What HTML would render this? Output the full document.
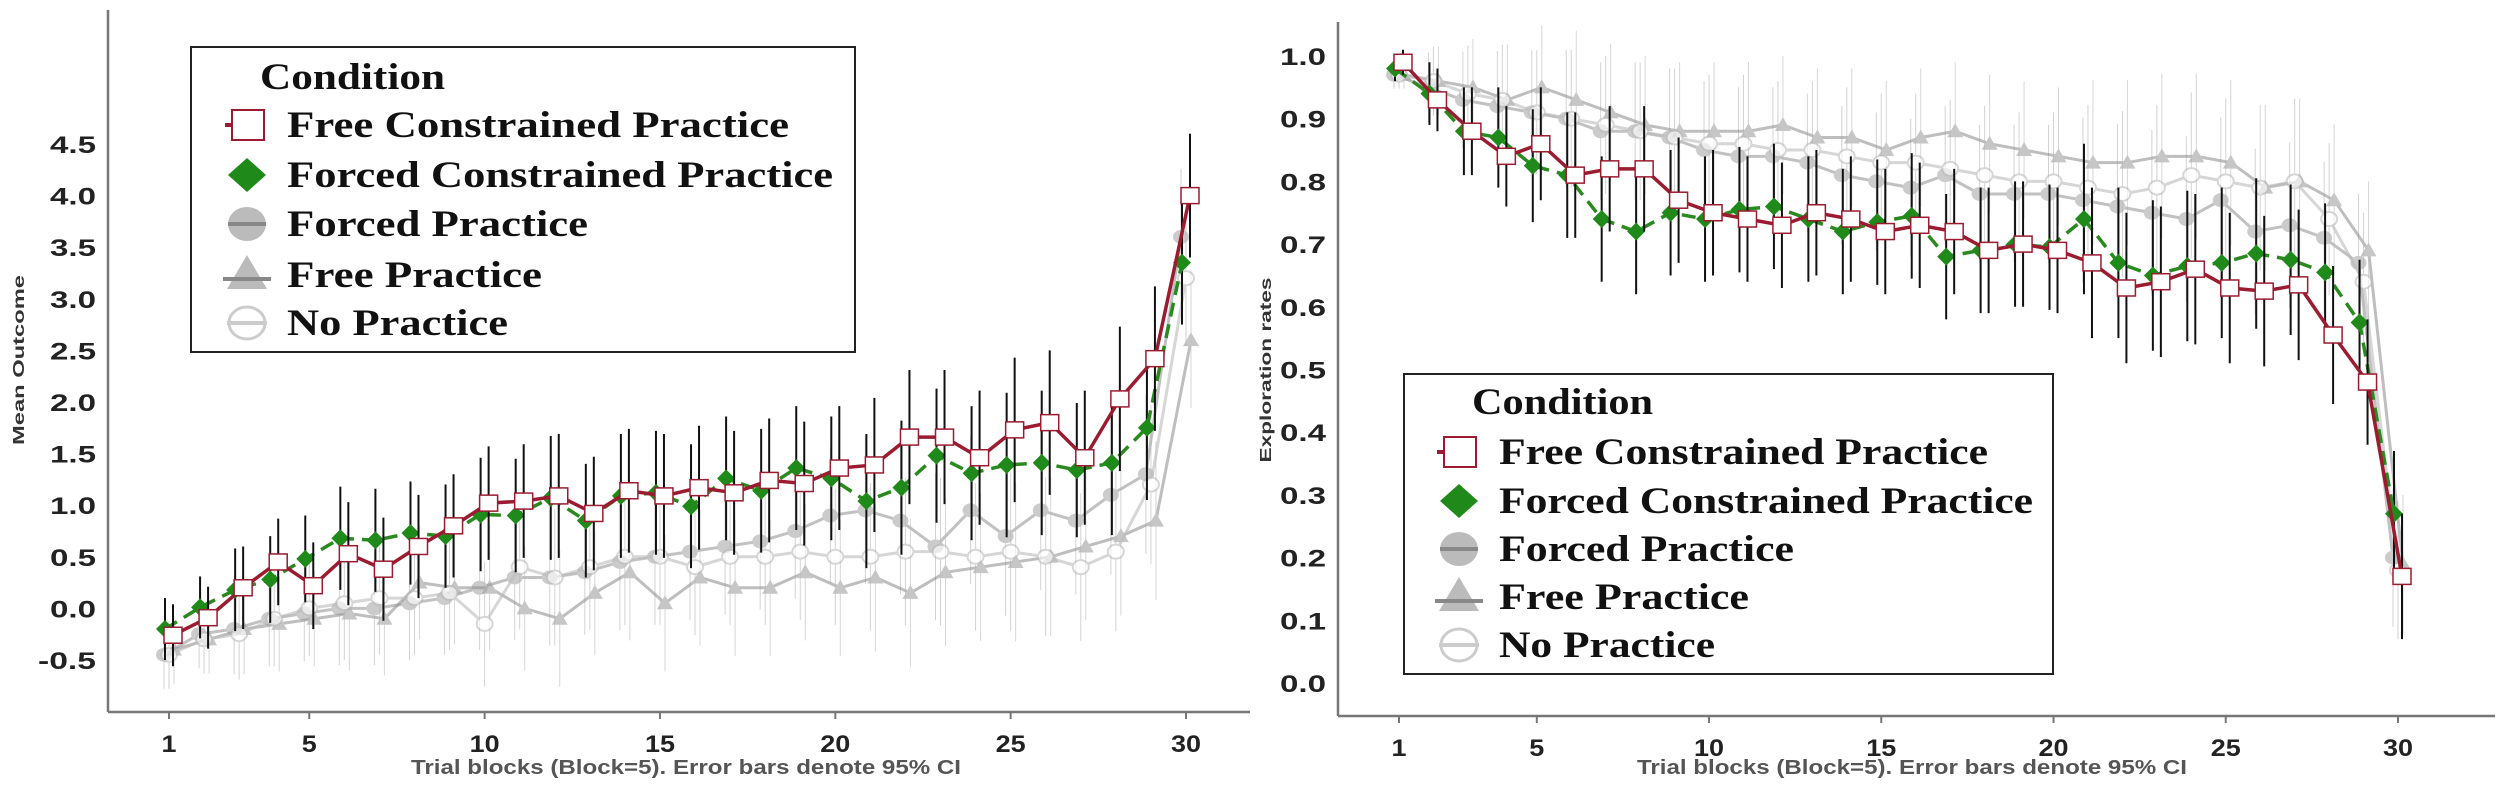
<!DOCTYPE html>
<html><head><meta charset="utf-8"><style>
html,body{margin:0;padding:0;background:#fff;}
svg{display:block;}
</style></head><body>
<svg id="fig" xmlns="http://www.w3.org/2000/svg" width="2500" height="796" viewBox="0 0 2500 796"></svg>
<script>
// ---------- data: left chart (Mean Outcome) ----------
const blocks = Array.from({length:30},(_,i)=>i+1);
const xTickLabels = [1,5,10,15,20,25,30];
const leftYTicks = [-0.5,0.0,0.5,1.0,1.5,2.0,2.5,3.0,3.5,4.0,4.5];
const leftFreeConstrained = [-0.26,-0.09,0.2,0.45,0.22,0.53,0.38,0.6,0.8,1.02,1.04,1.09,0.92,1.14,1.09,1.17,1.12,1.24,1.21,1.36,1.39,1.66,1.66,1.46,1.73,1.8,1.46,2.03,2.42,4.0];
const leftForcedConstrained = [-0.2,0.01,0.18,0.28,0.48,0.68,0.66,0.73,0.7,0.91,0.9,1.07,0.85,1.09,1.12,0.99,1.26,1.14,1.36,1.26,1.04,1.17,1.48,1.31,1.39,1.41,1.34,1.41,1.75,3.35];
const leftForced = [-0.45,-0.25,-0.2,-0.1,-0.05,0,0,0.05,0.1,0.2,0.3,0.3,0.35,0.45,0.5,0.55,0.6,0.65,0.75,0.9,0.95,0.85,0.6,0.95,0.7,0.95,0.85,1.1,1.3,3.6];
const leftFree = [-0.4,-0.3,-0.2,-0.15,-0.1,-0.05,-0.1,0.25,0.2,0.2,0.0,-0.1,0.15,0.35,0.05,0.3,0.2,0.2,0.35,0.2,0.3,0.15,0.35,0.4,0.45,0.5,0.6,0.7,0.85,2.6];
const leftNo = [-0.45,-0.3,-0.25,-0.1,0.0,0.05,0.1,0.1,0.15,-0.15,0.4,0.3,0.4,0.5,0.5,0.4,0.5,0.5,0.55,0.5,0.5,0.55,0.55,0.5,0.55,0.5,0.4,0.55,1.2,3.2];
const leftCI = [0.3,0.3,0.4,0.42,0.42,0.5,0.5,0.5,0.5,0.55,0.55,0.6,0.55,0.6,0.6,0.6,0.6,0.6,0.6,0.6,0.65,0.65,0.65,0.65,0.7,0.7,0.65,0.7,0.7,0.6];
// ---------- data: right chart (Exploration rates) ----------
const rightYTicks = [0.0,0.1,0.2,0.3,0.4,0.5,0.6,0.7,0.8,0.9,1.0];
const rightFreeConstrained = [0.99,0.93,0.88,0.84,0.86,0.81,0.82,0.82,0.77,0.75,0.74,0.73,0.75,0.74,0.72,0.73,0.72,0.69,0.70,0.69,0.67,0.63,0.64,0.66,0.63,0.625,0.635,0.555,0.48,0.17];
const rightForcedConstrained = [0.98,0.94,0.88,0.87,0.825,0.81,0.74,0.72,0.75,0.74,0.755,0.76,0.74,0.72,0.735,0.745,0.68,0.69,0.70,0.695,0.74,0.67,0.65,0.665,0.67,0.685,0.675,0.655,0.575,0.27];
const rightForced = [0.97,0.95,0.93,0.92,0.91,0.90,0.88,0.88,0.87,0.85,0.84,0.84,0.83,0.81,0.80,0.79,0.81,0.78,0.78,0.78,0.77,0.76,0.75,0.74,0.77,0.72,0.73,0.71,0.67,0.20];
const rightFree = [0.97,0.96,0.95,0.93,0.95,0.93,0.91,0.89,0.88,0.88,0.88,0.89,0.87,0.87,0.85,0.87,0.88,0.86,0.85,0.84,0.83,0.83,0.84,0.84,0.83,0.79,0.80,0.77,0.69,0.19];
const rightNo = [0.97,0.96,0.94,0.93,0.91,0.90,0.89,0.88,0.87,0.86,0.86,0.85,0.85,0.84,0.83,0.83,0.82,0.81,0.80,0.80,0.79,0.78,0.79,0.81,0.80,0.79,0.80,0.74,0.64,0.18];
const rightCI = [0.02,0.05,0.07,0.08,0.09,0.1,0.1,0.1,0.1,0.1,0.1,0.1,0.1,0.1,0.1,0.1,0.1,0.1,0.1,0.1,0.12,0.12,0.12,0.12,0.12,0.12,0.12,0.11,0.1,0.1];

const NS='http://www.w3.org/2000/svg';
const svg=document.getElementById('fig');
function mk(tag,attrs,parent){const e=document.createElementNS(NS,tag);for(const k in attrs)e.setAttribute(k,attrs[k]);(parent||svg).appendChild(e);return e;}

function chart(cfg){
  const g=mk('g',{});
  
  
  const X=b=>cfg.x1+(b-1)*(cfg.x30-cfg.x1)/29;
  const Y=v=>cfg.yTop+(cfg.yTopVal-v)*(cfg.yBot-cfg.yTop)/(cfg.yTopVal-cfg.yBotVal);
  const ya=mk('line',{x1:cfg.ax,y1:cfg.axTop,x2:cfg.ax,y2:cfg.axY,stroke:'#777','stroke-width':2.5},g);
  
  
  const xa=mk('line',{x1:cfg.ax,y1:cfg.axY,x2:cfg.axRight,y2:cfg.axY,stroke:'#777','stroke-width':2.5},g);
  
  
  cfg.yTicks.forEach(v=>{
    const s=v.toFixed(1);
    const t=mk('text',{x:cfg.ax-12,y:Y(v)+9,'text-anchor':'end','font-family':'Liberation Sans, sans-serif','font-weight':'bold','font-size':24,fill:'#222',textLength:s.length>3?58:46,lengthAdjust:'spacingAndGlyphs'},g);
    t.textContent=s;
    
    
  });
  xTickLabels.forEach(b=>{
    const tk=mk('line',{x1:X(b),y1:cfg.axY,x2:X(b),y2:cfg.axY+7,stroke:'#777','stroke-width':2},g);
    
    
    const s=String(b);
    const t=mk('text',{x:X(b),y:cfg.axY+40,'text-anchor':'middle','font-family':'Liberation Sans, sans-serif','font-weight':'bold','font-size':24,fill:'#222',textLength:s.length*15,lengthAdjust:'spacingAndGlyphs'},g);
    t.textContent=s;
    
    
  });
  const xl=mk('text',{x:cfg.xlX,y:774,'text-anchor':'middle','font-family':'Liberation Sans, sans-serif','font-weight':'bold','font-size':20,fill:'#555',textLength:550,lengthAdjust:'spacingAndGlyphs'},g);
  xl.textContent='Trial blocks (Block=5). Error bars denote 95% CI';
  
  
  const yl=mk('text',{x:0,y:0,'text-anchor':'middle','font-family':'Liberation Sans, sans-serif','font-weight':'bold','font-size':16,fill:'#333',textLength:cfg.ylLen,lengthAdjust:'spacingAndGlyphs',transform:`translate(${cfg.ylX},${cfg.ylY}) rotate(-90)`},g);
  yl.textContent=cfg.yLabel;
  
  

  const grays=[
    {d:cfg.forced,col:'#999',op:0.6,sh:'circle',name:'forced-practice',dx:-5},
    {d:cfg.free,col:'#8a8a8a',op:0.55,sh:'tri',name:'free-practice',dx:5},
    {d:cfg.no,col:'#bbb',op:0.6,sh:'ocircle',name:'no-practice',dx:0}
  ];
  grays.forEach(s=>{
    const sg=mk('g',{opacity:s.op},g);
    
    
    s.d.forEach((v,i)=>{
      const x=X(blocks[i])+s.dx, c=cfg.ci[i]*1.1;
      const e=mk('line',{x1:x,y1:Y(v-c),x2:x,y2:Y(v+c),stroke:'#b5b5b5','stroke-width':1},sg);
      
      
    });
    const pts=s.d.map((v,i)=>`${X(blocks[i])+s.dx},${Y(v)}`).join(' ');
    const pl=mk('polyline',{points:pts,fill:'none',stroke:s.col,'stroke-width':3},sg);
    
    
    s.d.forEach((v,i)=>{
      const x=X(blocks[i])+s.dx,y=Y(v);let m;
      if(s.sh==='tri') m=mk('polygon',{points:`${x},${y-8} ${x-8},${y+6} ${x+8},${y+6}`,fill:'#999'},sg);
      else if(s.sh==='circle') m=mk('ellipse',{cx:x,cy:y,rx:8,ry:7,fill:'#aaa'},sg);
      else m=mk('ellipse',{cx:x,cy:y,rx:8,ry:7,fill:'#fff',stroke:'#bbb','stroke-width':2},sg);
      
      
    });
  });
  const cols=[
    {d:cfg.fcp,col:'#2a8a1f',dash:'14 8',name:'forced-constrained-practice',dx:-4,sh:'dia'},
    {d:cfg.frc,col:'#9b1b30',dash:'',name:'free-constrained-practice',dx:4,sh:'sq'}
  ];
  cols.forEach(s=>{
    const sg=mk('g',{},g);
    
    
    s.d.forEach((v,i)=>{
      const x=X(blocks[i])+s.dx, c=cfg.ci[i];
      const e=mk('line',{x1:x,y1:Y(v-c),x2:x,y2:Y(v+c),stroke:'#111','stroke-width':2},sg);
      
      
    });
    const pts=s.d.map((v,i)=>`${X(blocks[i])+s.dx},${Y(v)}`).join(' ');
    const pl=mk('polyline',{points:pts,fill:'none',stroke:s.col,'stroke-width':3.5,'stroke-dasharray':s.dash},sg);
    
    
    s.d.forEach((v,i)=>{
      const x=X(blocks[i])+s.dx,y=Y(v);let m;
      if(s.sh==='sq') m=mk('rect',{x:x-9,y:y-8,width:18,height:16,fill:'#fff',stroke:'#9b1b30','stroke-width':1.5},sg);
      else m=mk('polygon',{points:`${x},${y-9} ${x+9},${y} ${x},${y+9} ${x-9},${y}`,fill:'#1f8a1a'},sg);
      
      
    });
  });
  const L=cfg.leg;
  const lg=mk('g',{},g);
  
  
  const box=mk('rect',{x:L.x,y:L.y,width:L.w,height:L.h,fill:'#fff',stroke:'#222','stroke-width':2},lg);
  
  
  const tt=mk('text',{x:L.tx-27,y:L.base[0],'font-family':'Liberation Serif, serif','font-weight':'bold','font-size':37,fill:'#111',textLength:L.len[0],lengthAdjust:'spacingAndGlyphs'},lg);
  tt.textContent='Condition';
  
  
  const names=['Free Constrained Practice','Forced Constrained Practice','Forced Practice','Free Practice','No Practice'];
  names.forEach((n,i)=>{
    const by=L.base[i+1], cy=by-12, sx=L.sx;
    const eg=mk('g',{},lg);
    
    
    if(i===0){mk('line',{x1:sx-22,y1:cy,x2:sx-14,y2:cy,stroke:'#9b1b30','stroke-width':4},eg);mk('rect',{x:sx-15,y:cy-15,width:32,height:30,fill:'#fff',stroke:'#9b1b30','stroke-width':2},eg);}
    else if(i===1){mk('polygon',{points:`${sx},${cy-17} ${sx+19},${cy} ${sx},${cy+17} ${sx-19},${cy}`,fill:'#1f8a1a'},eg);}
    else if(i===2){mk('ellipse',{cx:sx,cy:cy,rx:19,ry:17,fill:'#bbb'},eg);mk('line',{x1:sx-19,y1:cy,x2:sx+19,y2:cy,stroke:'#888','stroke-width':4},eg);}
    else if(i===3){mk('polygon',{points:`${sx},${cy-20} ${sx-20},${cy+14} ${sx+20},${cy+14}`,fill:'#bbb'},eg);mk('line',{x1:sx-24,y1:cy+4,x2:sx+24,y2:cy+4,stroke:'#888','stroke-width':4},eg);}
    else {mk('ellipse',{cx:sx,cy:cy,rx:18,ry:16,fill:'#fff',stroke:'#ccc','stroke-width':3},eg);mk('line',{x1:sx-20,y1:cy,x2:sx+20,y2:cy,stroke:'#ccc','stroke-width':4},eg);}
    const t=mk('text',{x:L.tx,y:by,'font-family':'Liberation Serif, serif','font-weight':'bold','font-size':37,fill:'#111',textLength:L.len[i+1],lengthAdjust:'spacingAndGlyphs'},eg);
    t.textContent=n;
  });
}

chart({name:'mean-outcome-chart',x1:169,x30:1186,yTop:144,yTopVal:4.5,yBot:660,yBotVal:-0.5,
  ax:108,axTop:10,axY:712,axRight:1250,xlX:686,ylX:24,ylY:360,ylLen:170,yLabel:'Mean Outcome',
  yTicks:leftYTicks,ci:leftCI,frc:leftFreeConstrained,fcp:leftForcedConstrained,forced:leftForced,free:leftFree,no:leftNo,
  leg:{x:191,y:47,w:664,h:305,tx:287,sx:247,base:[89,137,187,236,287,335],len:[185,502,546,301,255,221]}});
chart({name:'exploration-rates-chart',x1:1399,x30:2398,yTop:56,yTopVal:1.0,yBot:683,yBotVal:0.0,
  ax:1338,axTop:22,axY:716,axRight:2495,xlX:1912,ylX:1271,ylY:370,ylLen:185,yLabel:'Exploration rates',
  yTicks:rightYTicks,ci:rightCI,frc:rightFreeConstrained,fcp:rightForcedConstrained,forced:rightForced,free:rightFree,no:rightNo,
  leg:{x:1404,y:374,w:649,h:300,tx:1499,sx:1459,base:[414,464,513,561,609,657],len:[181,489,534,295,250,216]}});
</script>
</body></html>
